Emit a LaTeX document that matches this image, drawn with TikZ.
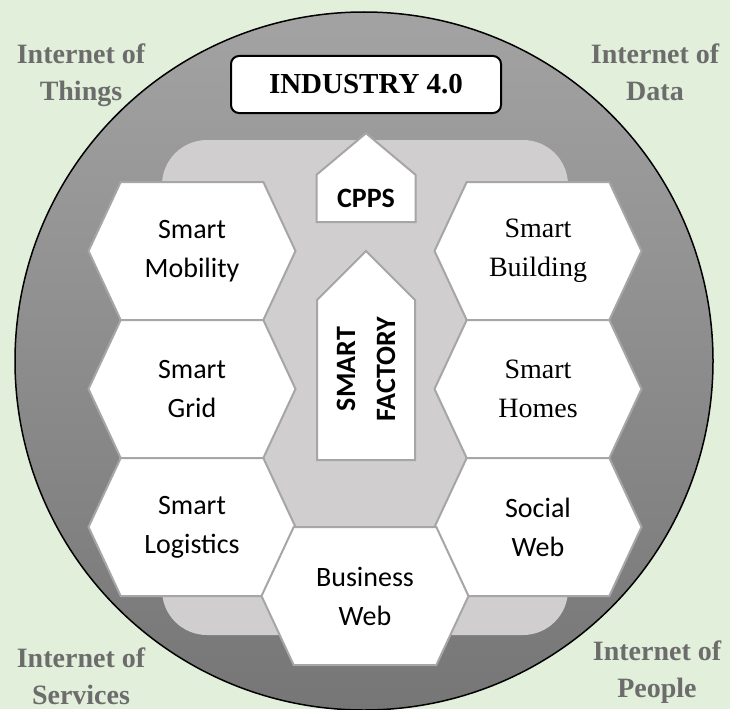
\documentclass[tikz,border=0pt]{standalone}
\usepackage{fontspec}
\usepackage{graphicx}
\setmainfont{Liberation Serif}
\newfontfamily\calib{Carlito}
\usetikzlibrary{shapes.symbols,positioning}

\definecolor{bgcol}{RGB}{226,239,218}
\definecolor{ringtop}{RGB}{163,163,163}
\definecolor{ringbot}{RGB}{118,118,118}
\definecolor{corecol}{RGB}{208,206,206}
\definecolor{hexline}{RGB}{166,166,166}
\definecolor{labgray}{RGB}{108,108,108}

\begin{document}
\begin{tikzpicture}
[x=1pt, y=-1pt,
% STYLES
ring/.style={circle, draw=black, line width=1.5pt, top color=ringtop, bottom color=ringbot, minimum size=698pt, inner sep=0pt},
core/.style={rectangle, rounded corners=45pt, fill=corecol, minimum width=406pt, minimum height=495pt},
% The hexagons around the factory
hexa/.style={signal, signal to=east and west, signal pointer angle=130, draw=hexline, line width=2pt, fill=white, minimum width=207pt, minimum height=138pt, inner sep=0pt, outer sep=0pt, align=center, font=\calib\fontsize{28}{39}\selectfont},
hexserif/.style={hexa, font=\fontsize{28}{39}\selectfont},
% Arrow boxes in the middle (drawn turned, pointing up)
house/.style={signal, rotate=90, signal to=east, draw=hexline, line width=2pt, fill=white, inner sep=0pt, align=center, font=\calib\bfseries\fontsize{28}{40}\selectfont},
title/.style={rectangle, rounded corners=8pt, draw=black, line width=2pt, fill=white, minimum width=270pt, minimum height=57pt, font=\bfseries\fontsize{29}{34}\selectfont},
net/.style={align=center, text=labgray, font=\bfseries\fontsize{28}{37}\selectfont}]

\useasboundingbox (0,0) rectangle (730,709);
\fill[bgcol] (0,0) rectangle (730,709);

% Rings
\node [ring] (ring) at (364,361) {};
\node [core] (core) at (365,387.5) {};

\node [title] (title) at (366,84.5) {INDUSTRY 4.0};
\node [house, signal pointer angle=100, minimum width=89pt, minimum height=99pt] (cpps) at (366,198.5) {\rotatebox{-90}{CPPS}};
\node [house, signal pointer angle=90, minimum width=209pt, minimum height=98pt] (factory) at (366,380) {\hspace*{22pt}SMART\\\hspace*{22pt}FACTORY};

% Hexagons
\node [hexa] (mobility) at (192,251) {Smart\\Mobility};
\node [hexa, below=0 of mobility] (grid) {Smart\\Grid};
\node [hexa, below=0 of grid] (logistics) {Smart\\Logistics};
\node [hexserif, right=139pt of mobility] (building) {Smart\\Building};
\node [hexserif, below=0 of building] (homes) {Smart\\Homes};
\node [hexa, below=0 of homes] (social) {Social\\Web};
\node [hexa] (business) at (logistics.south -| core) {Business\\Web};

% Corner labels
\node [net] (things) at (81,75) {Internet of\\Things};
\node [net] (data) at (655,72) {Internet of\\Data};
\node [net] (services) at (81,676) {Internet of\\Services};
\node [net] (people) at (657,672) {Internet of\\People};

\end{tikzpicture}
\end{document}
